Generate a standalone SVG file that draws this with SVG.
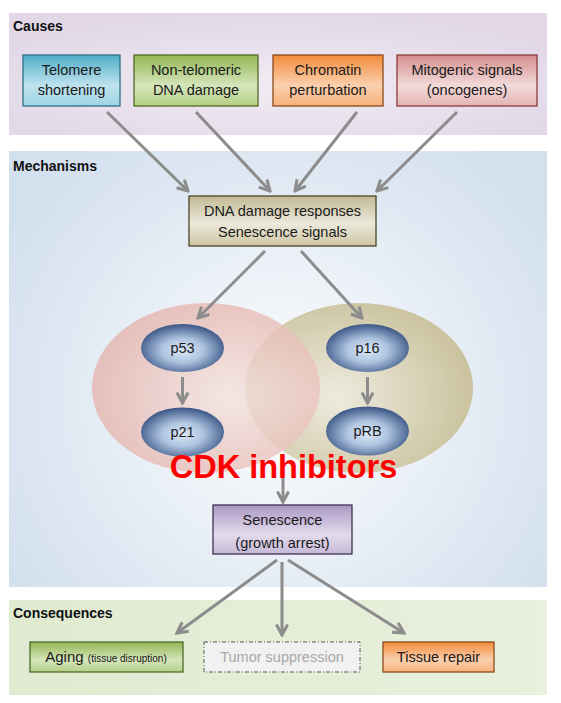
<svg xmlns="http://www.w3.org/2000/svg" width="561" height="703" viewBox="0 0 561 703">
<defs>
<style>
.t{font-family:"Liberation Sans",Arial,sans-serif;font-size:14.5px;fill:#1a1a1a;text-anchor:middle}
.h{font-family:"Liberation Sans",Arial,sans-serif;font-size:14px;font-weight:bold;fill:#111}
.c{fill:none;stroke:#8c8c8c;stroke-width:3}
.bx{stroke-width:1.3}
</style>
<radialGradient id="gCause" cx="0.5" cy="0.6" r="0.6"><stop offset="0" stop-color="#f1ecf3"/><stop offset="1" stop-color="#e2d8e8"/></radialGradient>
<radialGradient id="gMech" gradientUnits="userSpaceOnUse" cx="283" cy="400" r="320"><stop offset="0" stop-color="#ffffff"/><stop offset="0.35" stop-color="#eef3f8"/><stop offset="1" stop-color="#d3e0ee"/></radialGradient>
<linearGradient id="gCons" x1="0" y1="0" x2="1" y2="0"><stop offset="0" stop-color="#e0ead0"/><stop offset="1" stop-color="#e9f0dd"/></linearGradient>
<linearGradient id="gBlue" x1="0" y1="0" x2="0" y2="1"><stop offset="0" stop-color="#4fadc9"/><stop offset="0.6" stop-color="#bfe3ee"/><stop offset="1" stop-color="#9fd3e3"/></linearGradient>
<linearGradient id="gGreen" x1="0" y1="0" x2="0" y2="1"><stop offset="0" stop-color="#93b653"/><stop offset="0.6" stop-color="#d5e5bb"/><stop offset="1" stop-color="#b4cf86"/></linearGradient>
<linearGradient id="gOrange" x1="0" y1="0" x2="0" y2="1"><stop offset="0" stop-color="#f38b3c"/><stop offset="0.6" stop-color="#fbd0ae"/><stop offset="1" stop-color="#f7b07a"/></linearGradient>
<linearGradient id="gPink" x1="0" y1="0" x2="0" y2="1"><stop offset="0" stop-color="#d48e8c"/><stop offset="0.6" stop-color="#f2dada"/><stop offset="1" stop-color="#e3b4b3"/></linearGradient>
<linearGradient id="gKhaki" x1="0" y1="0" x2="0" y2="1"><stop offset="0" stop-color="#c2b992"/><stop offset="0.55" stop-color="#ece9dc"/><stop offset="1" stop-color="#cdc5a2"/></linearGradient>
<linearGradient id="gPurple" x1="0" y1="0" x2="0" y2="1"><stop offset="0" stop-color="#ab97c4"/><stop offset="0.6" stop-color="#e3dcec"/><stop offset="1" stop-color="#c6b8d8"/></linearGradient>
<radialGradient id="gNode" cx="0.5" cy="0.55" r="0.55"><stop offset="0" stop-color="#dce8f6"/><stop offset="0.45" stop-color="#aec4e0"/><stop offset="1" stop-color="#3a5585"/></radialGradient>
<radialGradient id="gRed" cx="0.6" cy="0.55" r="0.6"><stop offset="0" stop-color="#f2e2dc"/><stop offset="1" stop-color="#e6b4ae"/></radialGradient>
<radialGradient id="gOlive" cx="0.4" cy="0.55" r="0.6"><stop offset="0" stop-color="#eeebdf"/><stop offset="1" stop-color="#cbc39f"/></radialGradient>
<marker id="ah" viewBox="0 0 10 10" refX="8.5" refY="5" markerWidth="14" markerHeight="14" markerUnits="userSpaceOnUse" orient="auto"><path d="M1,1 L8.5,5 L1,9" fill="none" stroke="#8c8c8c" stroke-width="2.2"/></marker>
</defs>

<rect width="561" height="703" fill="#ffffff"/>

<g id="panel-causes">
<rect x="9" y="13" width="538" height="122" fill="url(#gCause)"/>
<text class="h" x="13" y="31">Causes</text>
</g>
<g id="panel-mechanisms">
<rect x="9" y="151" width="538" height="436" fill="url(#gMech)"/>
<text class="h" x="13" y="171">Mechanisms</text>
</g>
<g id="panel-consequences">
<rect x="9" y="600" width="538" height="95" fill="url(#gCons)"/>
<text class="h" x="13" y="618">Consequences</text>
</g>

<g id="olive-set"><ellipse cx="359" cy="388" rx="114" ry="85" fill="url(#gOlive)"/></g>
<g id="red-set"><ellipse cx="206" cy="388" rx="114" ry="85" fill="url(#gRed)" opacity="0.8"/></g>

<g id="telomere"><rect class="bx" x="23" y="55" width="97" height="51" fill="url(#gBlue)" stroke="#2f6f85"/>
<text class="t" x="71.5" y="75">Telomere</text><text class="t" x="71.5" y="95">shortening</text></g>
<g id="nontelomeric"><rect class="bx" x="134" y="55" width="124" height="51" fill="url(#gGreen)" stroke="#4f6a28"/>
<text class="t" x="196" y="75">Non-telomeric</text><text class="t" x="196" y="95">DNA damage</text></g>
<g id="chromatin"><rect class="bx" x="273" y="55" width="110" height="51" fill="url(#gOrange)" stroke="#8a4a1a"/>
<text class="t" x="328" y="75">Chromatin</text><text class="t" x="328" y="95">perturbation</text></g>
<g id="mitogenic"><rect class="bx" x="397" y="55" width="140" height="51" fill="url(#gPink)" stroke="#8a3c3a"/>
<text class="t" x="467" y="75">Mitogenic signals</text><text class="t" x="467" y="95">(oncogenes)</text></g>

<g id="dna-damage"><rect class="bx" x="189" y="196" width="187" height="50" fill="url(#gKhaki)" stroke="#4a452a"/>
<text class="t" x="282.5" y="216">DNA damage responses</text><text class="t" x="282.5" y="237">Senescence signals</text></g>

<g id="p53"><ellipse cx="182.5" cy="348" rx="41.5" ry="24" fill="url(#gNode)"/><text class="t" x="182.5" y="353">p53</text></g>
<g id="p21"><ellipse cx="182.5" cy="432" rx="41.5" ry="24.5" fill="url(#gNode)"/><text class="t" x="182.5" y="437">p21</text></g>
<g id="p16"><ellipse cx="367.5" cy="348" rx="41.5" ry="24" fill="url(#gNode)"/><text class="t" x="367.5" y="353">p16</text></g>
<g id="pRB"><ellipse cx="367.5" cy="431" rx="41.5" ry="24.5" fill="url(#gNode)"/><text class="t" x="367.5" y="436">pRB</text></g>

<g id="connectors">
<line class="c" x1="107" y1="112" x2="188" y2="191" marker-end="url(#ah)"/>
<line class="c" x1="196" y1="112" x2="270" y2="191" marker-end="url(#ah)"/>
<line class="c" x1="357" y1="112" x2="295" y2="191" marker-end="url(#ah)"/>
<line class="c" x1="457" y1="112" x2="377" y2="191" marker-end="url(#ah)"/>
<line class="c" x1="265" y1="251" x2="198" y2="318" marker-end="url(#ah)"/>
<line class="c" x1="301" y1="251" x2="362" y2="318" marker-end="url(#ah)"/>
<line class="c" x1="182.5" y1="377" x2="182.5" y2="403" marker-end="url(#ah)"/>
<line class="c" x1="367.5" y1="377" x2="367.5" y2="403" marker-end="url(#ah)"/>
<line class="c" x1="283" y1="470" x2="283" y2="502" marker-end="url(#ah)"/>
<line class="c" x1="277" y1="560" x2="177" y2="633" marker-end="url(#ah)"/>
<line class="c" x1="282" y1="562" x2="282" y2="635" marker-end="url(#ah)"/>
<line class="c" x1="288" y1="560" x2="404" y2="633" marker-end="url(#ah)"/>
</g>

<g id="cdk-label"><text x="283.5" y="478" font-family="Liberation Sans,Arial,sans-serif" font-size="32.5" font-weight="bold" fill="#ff0000" text-anchor="middle">CDK inhibitors</text></g>

<g id="senescence"><rect class="bx" x="213" y="505" width="139" height="49" fill="url(#gPurple)" stroke="#3f3151"/>
<text class="t" x="282.5" y="525">Senescence</text><text class="t" x="282.5" y="548">(growth arrest)</text></g>

<g id="aging"><rect class="bx" x="30" y="642" width="153" height="30" fill="url(#gGreen)" stroke="#4f6a28"/>
<text class="t" x="106" y="662"><tspan font-size="15">Aging </tspan><tspan font-size="10">(tissue disruption)</tspan></text></g>
<g id="tumor"><rect x="204" y="642" width="156" height="30" fill="#f1f1f1" stroke="#555" stroke-width="1" stroke-dasharray="4,2,1,2"/>
<text class="t" x="282" y="662" style="fill:#a8a8a8">Tumor suppression</text></g>
<g id="tissue-repair"><rect class="bx" x="383" y="642" width="111" height="30" fill="url(#gOrange)" stroke="#8a4a1a"/>
<text class="t" x="438.5" y="662">Tissue repair</text></g>
</svg>
